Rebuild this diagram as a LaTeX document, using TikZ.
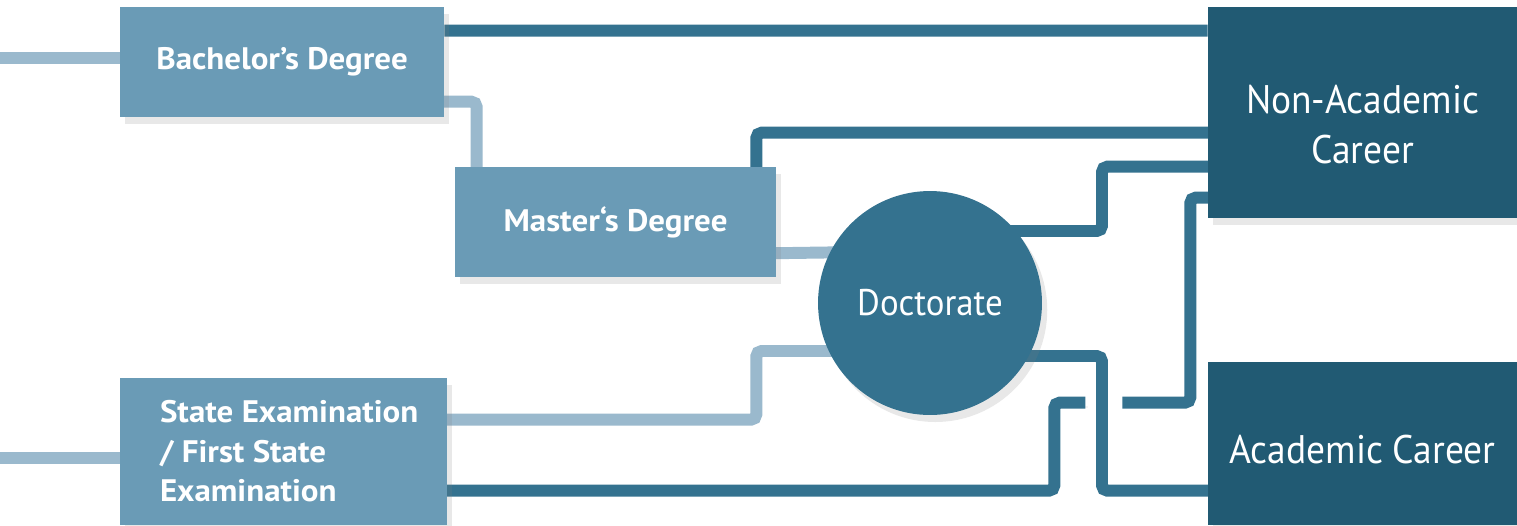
\documentclass[tikz,border=0pt]{standalone}
\usepackage{fontspec}
\setsansfont{PT Sans}
\newfontfamily\boldboxfont[FakeStretch=1.06]{PT Sans}
\newfontfamily\careerfont[FakeStretch=0.94]{PT Sans}
\usetikzlibrary{positioning,backgrounds,shadows}

\definecolor{studybox}{RGB}{106,155,182}
\definecolor{studyline}{RGB}{154,185,205}
\definecolor{careerline}{RGB}{52,114,143}
\definecolor{careerbox}{RGB}{33,90,115}

\tikzset{
  studynode/.style={fill=studybox, text=white, inner sep=0pt,
    font=\boldboxfont\bfseries\fontsize{17.7}{22.5}\selectfont,
    drop shadow={shadow xshift=3pt, shadow yshift=-4pt, opacity=0.18}},
  studytext/.style={text=white, align=flush left, inner sep=0pt,
    font=\boldboxfont\bfseries\fontsize{17.7}{22.5}\selectfont},
  careernode/.style={fill=careerbox, inner sep=0pt,
    drop shadow={shadow xshift=3pt, shadow yshift=-4pt, opacity=0.18}},
  careertext/.style={text=white, align=center, inner sep=0pt,
    font=\careerfont\fontsize{22.7}{28.5}\selectfont},
  link/.style={line width=6.8pt, rounded corners=3pt,
    preaction={draw=black!12, transform canvas={xshift=1.5pt, yshift=-2.5pt}}},
  lightlink/.style={link, draw=studyline},
  darklink/.style={link, draw=careerline}
}

\begin{document}
\begin{tikzpicture}[x=0.02cm, y=-0.02cm]
\useasboundingbox (0,0) rectangle (1517,525);

\node [studynode, minimum width=6.48cm, minimum height=2.2cm] (bachelor) at (282,62) {Bachelor’s Degree};
\node [studynode, minimum width=6.42cm, minimum height=2.2cm] (master) at (615.5,222) {Master‘s Degree};
\node [studynode, minimum width=6.54cm, minimum height=2.94cm,
  label={[studytext, anchor=west, xshift=0.8cm]west:{State Examination\\/ First State\\Examination}}] (state) at (283.5,451.5) {};
\node [circle, fill=careerline, text=white, minimum size=4.48cm, inner sep=0pt,
  font=\careerfont\fontsize{21.1}{26}\selectfont,
  drop shadow={shadow xshift=3pt, shadow yshift=-4pt, opacity=0.18}] (doctorate) at (930,303) {Doctorate};
\node [careernode, minimum width=6.18cm, minimum height=4.22cm,
  label={[careertext, yshift=-0.25cm]center:Non-Academic\\Career}] (nonacademic) at (1362.5,112.5) {};
\node [careernode, minimum width=6.18cm, minimum height=3.26cm,
  label={[careertext, yshift=-0.12cm]center:Academic Career}] (academic) at (1362.5,443.5) {};

\coordinate (in1) at (0,58);
\coordinate (in2) at (0,458);

\begin{scope}[on background layer]
\draw [lightlink] (in1) -- (in1 -| bachelor.center);
\draw [lightlink] (in2) -- (in2 -| state.center);
\draw [darklink] ([shift={(0,24)}]bachelor.north east) -- ([shift={(0,24)}]nonacademic.north west);
\draw [lightlink] ([shift={(-10,95)}]bachelor.north east) -| ([shift={(22,10)}]master.north west);
\draw [darklink] ([shift={(-20,10)}]master.north east) |- ([shift={(10,126)}]nonacademic.north west);
\draw [lightlink] ([shift={(-10,-24)}]master.south east) -- ([shift={(0,-52)}]doctorate.center);
\draw [lightlink] ([shift={(-10,42)}]state.north east) -- ++(319,0) |- ([shift={(0,48)}]doctorate.center);
\draw [darklink] ([shift={(0,-72)}]doctorate.center) -- ++(172,0) |- ([shift={(10,160)}]nonacademic.north west);
\draw [darklink] ([shift={(0,53)}]doctorate.center) -- ++(172,0) |- ([shift={(10,129)}]academic.north west);
\draw [darklink] ([shift={(-10,113)}]state.north east) -- ++(617,0) -- ++(0,-88) -- ++(31,0)
  ++(37,0) -- ++(68,0) |- ([shift={(10,191)}]nonacademic.north west);
\end{scope}
\end{tikzpicture}
\end{document}
